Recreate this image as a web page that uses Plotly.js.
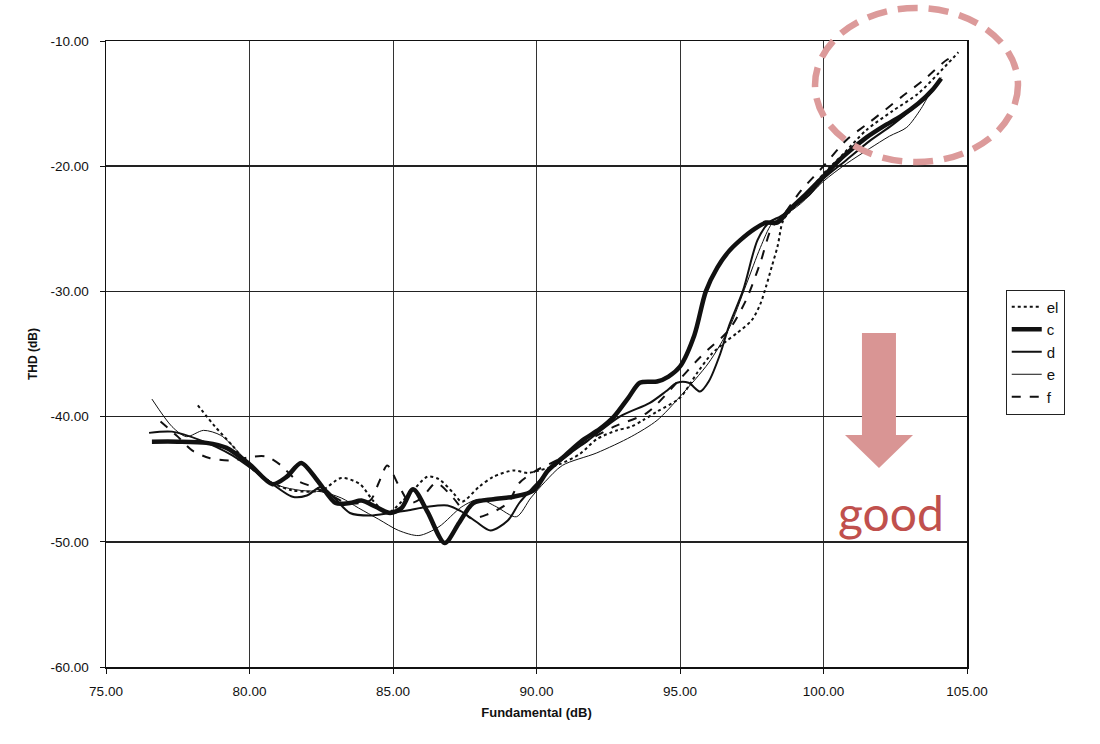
<!DOCTYPE html>
<html>
<head>
<meta charset="utf-8">
<script src="https://cdn.plot.ly/plotly-3.0.1.min.js"></script>
<style>html,body{margin:0;padding:0;background:#fff;}#chart{width:1100px;height:744px;}</style>
</head>
<body>
<div id="chart"></div>
<script>
// Series "el" (dotted)
const elX = [78.2, 78.8, 79.4, 80.0, 80.8, 81.5, 82.5, 83.2, 83.85, 84.3, 84.8, 85.3, 85.7, 86.2, 86.6, 87.1, 87.4, 88.0, 88.5, 89.2, 89.7, 90.1, 90.8, 91.5, 92.1, 92.8, 93.3, 93.7, 94.2, 95.0, 95.6, 96.1, 96.6, 97.0, 97.5, 97.8, 98.0, 98.2, 98.4, 98.6, 99.0, 99.5, 100.0, 100.7, 101.5, 102.4, 103.3, 104.0, 104.7];
const elY = [-39.1, -40.8, -42.3, -44.0, -45.3, -45.9, -45.9, -44.9, -45.4, -46.7, -47.7, -46.8, -45.9, -44.8, -45.0, -46.1, -46.8, -45.6, -44.8, -44.3, -44.5, -44.3, -43.8, -43.0, -41.8, -41.1, -40.8, -40.3, -39.6, -38.5, -36.5, -35.0, -34.0, -33.3, -32.3, -31.0, -29.6, -28.0, -26.4, -24.3, -23.2, -22.0, -20.6, -19.0, -17.1, -15.6, -14.2, -12.6, -10.9];
// Series "c" (thick solid)
const cX = [76.6, 77.5, 78.5, 79.2, 80.0, 80.8, 81.3, 81.8, 82.4, 83.0, 83.5, 83.9, 84.4, 84.9, 85.3, 85.7, 86.2, 86.8, 87.3, 87.8, 88.5, 89.2, 89.9, 90.4, 91.0, 91.6, 92.2, 92.7, 93.2, 93.6, 94.2, 94.6, 95.0, 95.5, 95.9, 96.3, 96.7, 97.1, 97.6, 98.0, 98.4, 98.8, 99.4, 100.0, 100.7, 101.5, 102.1, 102.7, 103.3, 103.8, 104.1];
const cY = [-42.0, -42.0, -42.1, -42.5, -43.8, -45.4, -44.8, -43.7, -45.2, -46.9, -46.9, -46.7, -47.2, -47.7, -47.3, -45.8, -47.6, -50.1, -48.5, -46.9, -46.6, -46.4, -45.9, -44.3, -43.1, -41.9, -41.0, -40.0, -38.5, -37.3, -37.2, -36.8, -36.0, -33.5, -30.0, -28.1, -26.8, -25.9, -25.0, -24.5, -24.5, -23.5, -22.2, -20.8, -19.2, -17.7, -16.8, -16.0, -15.0, -13.9, -13.0];
// Series "d" (medium solid)
const dX = [76.5, 77.3, 78.3, 79.4, 80.4, 81.5, 82.0, 82.5, 83.0, 83.5, 84.2, 84.9, 85.5, 86.2, 86.9, 87.4, 87.9, 88.4, 89.0, 89.4, 89.9, 90.5, 91.2, 91.8, 92.9, 93.95, 94.5, 94.9, 95.3, 95.7, 96.0, 96.4, 96.7, 97.2, 97.7, 98.1, 98.5, 99.0, 99.5, 100.0, 100.8, 101.6, 102.4, 103.0, 103.6, 104.1];
const dY = [-41.3, -41.2, -41.9, -43.1, -44.7, -46.4, -46.3, -45.6, -46.6, -47.7, -47.9, -47.7, -47.5, -47.2, -47.1, -47.6, -48.4, -49.1, -48.3, -46.9, -45.6, -44.2, -42.9, -41.9, -40.0, -38.9, -38.0, -37.3, -37.3, -38.0, -37.2, -35.0, -32.8, -29.9, -25.9, -24.5, -24.0, -23.2, -22.3, -21.0, -19.5, -18.0, -16.7, -15.6, -14.5, -13.0];
// Series "e" (thin solid)
const eX = [76.6, 77.3, 77.8, 78.4, 79.0, 79.6, 80.3, 81.0, 81.8, 82.5, 83.2, 83.8, 84.5, 85.2, 85.9, 86.6, 87.4, 88.0, 88.6, 89.3, 89.8, 90.3, 90.9, 92.1, 93.3, 94.2, 95.0, 96.0, 96.7, 97.3, 97.8, 98.2, 98.6, 99.2, 100.0, 100.8, 101.6, 102.3, 102.9, 103.4, 103.8, 104.1];
const eY = [-38.6, -40.8, -41.6, -41.1, -41.5, -42.8, -44.5, -45.5, -45.9, -46.0, -46.5, -47.3, -48.2, -49.1, -49.5, -48.8, -47.2, -46.6, -47.2, -48.0, -46.5, -45.2, -43.9, -42.9, -41.6, -40.3, -38.4, -35.7, -33.0, -29.5, -26.5, -24.6, -24.0, -23.0, -21.2, -19.8, -18.6, -17.6, -16.9, -15.4, -13.8, -12.9];
// Series "f" (dashed)
const fX = [76.9, 77.5, 78.0, 78.6, 79.4, 80.1, 80.6, 81.1, 81.65, 82.2, 82.7, 83.4, 84.2, 84.5, 84.8, 85.2, 85.6, 86.0, 86.5, 87.1, 87.7, 88.3, 89.0, 89.4, 90.0, 90.7, 91.5, 92.7, 93.85, 95.0, 95.6, 96.0, 96.7, 97.3, 97.8, 98.2, 98.6, 99.2, 100.0, 100.8, 101.6, 102.7, 103.5, 104.3, 104.6];
const fY = [-40.4, -41.6, -42.7, -43.3, -43.5, -43.2, -43.2, -43.9, -45.1, -45.6, -46.1, -46.9, -46.7, -45.3, -43.9, -45.5, -46.9, -46.5, -45.3, -46.5, -48.1, -47.8, -46.9, -45.3, -44.3, -43.5, -42.3, -40.8, -39.7, -37.0, -35.5, -34.6, -33.1, -30.7, -27.7, -24.9, -23.9, -22.0, -20.0, -17.9, -16.5, -14.5, -13.1, -11.5, -11.2];

const seriesNames = ["el", "c", "d", "e", "f"];
const xTickVals = [75, 80, 85, 90, 95, 100, 105];
const xTickText = ["75.00", "80.00", "85.00", "90.00", "95.00", "100.00", "105.00"];
const yTickVals = [-60, -50, -40, -30, -20, -10];
const yTickText = ["-60.00", "-50.00", "-40.00", "-30.00", "-20.00", "-10.00"];

const xs = [elX, cX, dX, eX, fX];
const ys = [elY, cY, dY, eY, fY];
const styles = [
  {width: 2, dash: "dot"},
  {width: 4.5, dash: "solid"},
  {width: 2, dash: "solid"},
  {width: 1, dash: "solid"},
  {width: 2, dash: "dash"}
];

const traces = seriesNames.map((n, i) => ({
  type: "scatter", mode: "lines", name: n,
  x: xs[i], y: ys[i],
  line: {color: "#111", width: styles[i].width, dash: styles[i].dash, shape: "spline", smoothing: 0.8}
}));

const fontFam = "Liberation Sans, Arial, sans-serif";
const layout = {
  width: 1100, height: 744,
  margin: {l: 106, r: 133, t: 41, b: 77},
  paper_bgcolor: "#fff", plot_bgcolor: "#fff",
  font: {family: fontFam, color: "#111", size: 13},
  showlegend: true,
  legend: {
    x: 1.045, y: 0.603, xanchor: "left", yanchor: "top",
    bordercolor: "#222", borderwidth: 1, bgcolor: "#fff",
    font: {family: fontFam, size: 15, color: "#111"},
    tracegroupgap: 0
  },
  xaxis: {
    range: [75, 105], tickvals: xTickVals, ticktext: xTickText,
    showgrid: true, gridcolor: "#333", gridwidth: 1,
    showline: true, linecolor: "#111", linewidth: 1.5, mirror: true,
    ticks: "outside", ticklen: 5, tickcolor: "#111", ticklabelstandoff: 6,
    zeroline: false,
    tickfont: {family: fontFam, size: 13.5, color: "#111"},
    title: {text: "<b>Fundamental (dB)</b>", font: {family: fontFam, size: 13, color: "#111"}, standoff: 10}
  },
  yaxis: {
    range: [-60, -10], tickvals: yTickVals, ticktext: yTickText,
    showgrid: true, gridcolor: "#222", gridwidth: 1.5,
    showline: true, linecolor: "#111", linewidth: 1.5, mirror: true,
    ticks: "outside", ticklen: 5, tickcolor: "#111", ticklabelstandoff: 8,
    zeroline: false,
    tickfont: {family: fontFam, size: 13.5, color: "#111"},
    title: {text: "<b>THD (dB)</b>", font: {family: fontFam, size: 12, color: "#111"}, standoff: 10}
  },
  shapes: [
    {type: "circle", xref: "paper", yref: "paper", x0: 0.8235, x1: 1.0592, y0: 0.8067, y1: 1.0527,
     line: {color: "#dc9a9a", width: 6.5, dash: "20px,11px"}, fillcolor: "rgba(0,0,0,0)"},
    {type: "path", xref: "paper", yref: "paper",
     path: "M 0.878 0.5335 L 0.9175 0.5335 L 0.9175 0.3706 L 0.9373 0.3706 L 0.8978 0.3179 L 0.8583 0.3706 L 0.878 0.3706 Z",
     fillcolor: "#d99594", line: {width: 0}}
  ],
  annotations: [
    {xref: "paper", yref: "paper", x: 0.9117, y: 0.2476, xanchor: "center", yanchor: "middle",
     text: "good", showarrow: false, font: {family: "Lato, Open Sans, sans-serif", size: 48, color: "#c0504d"}}
  ]
};

Plotly.newPlot("chart", traces, layout, {displayModeBar: false, staticPlot: true});
</script>
</body>
</html>
